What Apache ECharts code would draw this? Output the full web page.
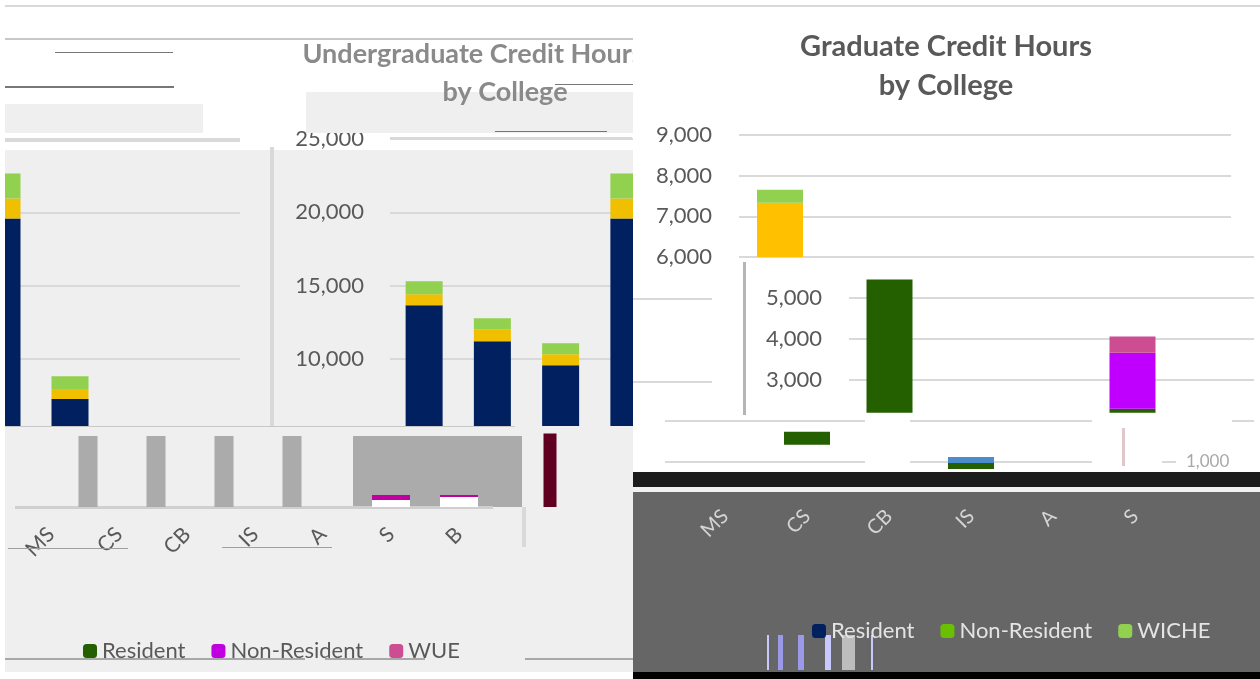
<!DOCTYPE html>
<html>
<head>
<meta charset="utf-8">
<style>html,body{margin:0;padding:0;background:#fff}#chart{width:1260px;height:679px}</style>
<script src="https://cdn.jsdelivr.net/npm/echarts@6/dist/echarts.min.js"></script>
</head>
<body>
<div id="chart"></div>
<script>
// undergraduate panel, values
var ugResident = [13670, 11220, 9590, 19590, 7280];
var ugNonResident = [750, 820, 750, 1360, 680];
var ugWue = [886, 750, 750, 1700, 880];
var ugLabels = ['MS', 'CS', 'CB', 'IS', 'A', 'S', 'B', ''];
var ugLowBase = [null, null, null, null, null, 470, 680, null];
var ugLowNonRes = [null, null, null, null, null, 350, 140, null];
var ugGrayBars = [4830, 4830, 4830, 4830];
var ugDarkBar = [5000];

// graduate panel, the same chart broken into three shifted bands
var grSlots = ['MS', 'CS', 'CB', 'IS', 'A', 'S'];
var grMidSlots = ['MS', 'CS', 'CB', 'IS', 'A'];
var grTopNonRes = [7335, null, null, null, null, null];
var grTopWiche = [318, null, null, null, null, null];
var grMidBase = [2200, null, null, 2200, null];
var grMidResident = [3252, null, null, 98, null];
var grMidNonRes = [null, null, null, 1369, null];
var grMidWue = [null, null, null, 392, null];
var grLowBase = [null, 1418, null, 831, null, null];
var grLowResident = [null, 318, null, 147, null, null];
var grLowBlue = [null, null, null, 147, null, null];

var FONT = 'Lato';
var TXT = '#595959';
var LINE = '#d9d9d9';
var NAVY = '#002060', GOLD = '#efbf00', LIME = '#92d050';
var DKGREEN = '#245f00', MAGENTA = '#c000ff', PINK = '#cc4d91';

function box(x, y, w, h, color, z) {
  return { type: 'rect', z: z, silent: true, shape: { x: x, y: y, width: w, height: h }, style: { fill: color } };
}

function yAxisFor(idx, min, max, step, opts) {
  return Object.assign({
    type: 'value', gridIndex: idx, min: min, max: max, interval: step,
    axisLine: { show: false }, axisTick: { show: false },
    axisLabel: { show: false },
    splitLine: { show: true, lineStyle: { color: LINE, width: 2 } }
  }, opts || {});
}
function numLabel(margin, extra) {
  return Object.assign({
    show: true, margin: margin, color: TXT, fontSize: 22, fontFamily: FONT,
    formatter: function (v) { return echarts.format.addCommas(v); }
  }, extra || {});
}
function xAxisFor(idx, cats, opts) {
  return Object.assign({
    type: 'category', gridIndex: idx, data: cats,
    axisLine: { show: false }, axisTick: { show: false }, axisLabel: { show: false }, splitLine: { show: false }
  }, opts || {});
}
function bar(name, idx, data, color, width, stack, z) {
  return {
    type: 'bar', name: name, xAxisIndex: idx, yAxisIndex: idx, data: data, stack: stack,
    barWidth: width, z: z, itemStyle: { color: color }, silent: true
  };
}

var grids = [
  { left: 2, top: 139, width: 272, height: 293.5 },     // 0 undergrad, wrapped part
  { left: 390, top: 139, width: 273, height: 293.5 },   // 1 undergrad, main part
  { left: 17, top: 433.5, width: 544, height: 73.5 },   // 2 undergrad low band
  { left: 54, top: 433.5, width: 272, height: 73.5 },   // 3 gray strips
  { left: 500, top: 433.5, width: 100, height: 73.5 },  // 4 dark strip
  { left: 739, top: 135, width: 492, height: 122 },     // 5 graduate top
  { left: 849, top: 257, width: 405, height: 164 },     // 6 graduate middle
  { left: 684, top: 421, width: 492, height: 82 }       // 7 graduate low
];

var xAxes = [
  xAxisFor(0, ['a', 'b', 'c', 'd', 'e'], { boundaryGap: false }),
  xAxisFor(1, ['a', 'b', 'c', 'd']),
  xAxisFor(2, ugLabels, {
    axisLabel: { show: true, interval: 0, rotate: 45, margin: 24, color: TXT, fontSize: 21, fontFamily: FONT }
  }),
  xAxisFor(3, ['a', 'b', 'c', 'd']),
  xAxisFor(4, ['a']),
  xAxisFor(5, grSlots),
  xAxisFor(6, grMidSlots),
  xAxisFor(7, grSlots, {
    z: 7,
    axisLabel: { show: true, interval: 0, rotate: 45, margin: 10, color: '#d4d4d4', fontSize: 20, fontFamily: FONT }
  })
];

var yAxes = [
  yAxisFor(0, 5000, 25000, 5000),
  yAxisFor(1, 5000, 25000, 5000, { axisLabel: numLabel(26, { showMinLabel: false }) }),
  yAxisFor(2, 0, 5000, 5000, { splitLine: { show: false } }),
  yAxisFor(3, 0, 5000, 5000, { splitLine: { show: false } }),
  yAxisFor(4, 0, 5000, 5000, { splitLine: { show: false } }),
  yAxisFor(5, 6000, 9000, 1000, { z: 4, axisLabel: numLabel(27) }),
  yAxisFor(6, 2000, 6000, 1000, { z: 4, axisLabel: numLabel(27, { showMinLabel: false, showMaxLabel: false }) }),
  yAxisFor(7, 0, 2000, 1000, { z: 4, position: 'right', axisLabel: numLabel(10, { showMinLabel: false, showMaxLabel: false, fontSize: 17, color: '#a8a8a8' }) })
];

function wrapped(arr) { return [arr[3], arr[4], null, null, null]; }
function mainPart(arr) { return arr.slice(0, 4); }

var series = [
  bar('Resident', 0, wrapped(ugResident), NAVY, 37, 'ua', 2),
  bar('Non-Resident', 0, wrapped(ugNonResident), GOLD, 37, 'ua', 2),
  bar('WUE', 0, wrapped(ugWue), LIME, 37, 'ua', 2),
  bar('Resident', 1, mainPart(ugResident), NAVY, 37, 'ub', 2),
  bar('Non-Resident', 1, mainPart(ugNonResident), GOLD, 37, 'ub', 2),
  bar('WUE', 1, mainPart(ugWue), LIME, 37, 'ub', 2),
  bar('base', 2, ugLowBase, '#ffffff', 38, 'uc', 4),
  bar('Non-Resident', 2, ugLowNonRes, '#c0009f', 38, 'uc', 4),
  bar('gray', 3, ugGrayBars, '#ababab', 19, null, 4),
  bar('dark', 4, ugDarkBar, '#5f0020', 13, null, 4),
  bar('Non-Resident', 5, grTopNonRes, '#ffc000', 46, 'ga', 4),
  bar('WICHE', 5, grTopWiche, LIME, 46, 'ga', 4),
  bar('base', 6, grMidBase, 'rgba(0,0,0,0)', 46, 'gb', 4),
  bar('Resident', 6, grMidResident, DKGREEN, 46, 'gb', 4),
  bar('Non-Resident', 6, grMidNonRes, MAGENTA, 46, 'gb', 4),
  bar('WUE', 6, grMidWue, PINK, 46, 'gb', 4),
  bar('base', 7, grLowBase, 'rgba(0,0,0,0)', 46, 'gc', 4),
  bar('Resident', 7, grLowResident, DKGREEN, 46, 'gc', 4),
  bar('WICHE', 7, grLowBlue, '#4a8ccc', 46, 'gc', 4)
];

var shapes = [
  // undergrad panel backdrop
  box(5, 150, 628, 522, '#efefef', 0),
  box(5, 5, 628, 2, LINE, 1),
  box(5, 38, 628, 2, '#c8c8c8', 1),
  box(55, 52, 118, 1, '#777', 1),
  box(5, 86, 169, 2, '#777', 1),
  box(555, 84, 78, 1, '#777', 1),
  box(5, 104, 198, 29, '#efefef', 1),
  box(306, 92, 327, 41, '#efefef', 1),
  box(495, 131, 112, 1, '#777', 1),
  box(5, 139, 236, 3, LINE, 1),
  box(390, 137, 242, 3, LINE, 1),
  // hides the wrapped gridlines past their end
  box(240, 136, 34, 6, '#ffffff', 3),
  box(240, 150, 30, 276, '#efefef', 3),
  box(270, 147, 4, 279, LINE, 3),
  // strip between the two undergrad bands and the gray block
  box(5, 426, 628, 8, '#efefef', 3),
  box(5, 426, 510, 1, '#c8c8c8', 3),
  box(353, 436, 169, 71, '#ababab', 3),
  box(15, 506, 478, 3, '#cfcfcf', 3),
  box(522, 507, 4, 40, LINE, 3),
  box(8, 548, 120, 1, '#a0a0a0', 3),
  box(222, 547, 110, 1, '#a0a0a0', 3),
  box(5, 658, 300, 2, '#a8a8a8', 3),
  box(325, 658, 100, 2, '#a8a8a8', 3),
  box(525, 658, 108, 2, '#a8a8a8', 3),
  // graduate panel
  box(633, 0, 627, 672, '#ffffff', 3),
  box(633, 5, 627, 2, LINE, 3),
  box(633, 298, 79, 2, LINE, 3),
  box(633, 381, 79, 2, LINE, 3),
  box(743, 262, 3, 153, '#b5b5b5', 3),
  box(665, 420, 19, 2, LINE, 3),
  box(665, 461, 19, 2, LINE, 3),
  box(865, 419, 45, 4, '#ffffff', 5),
  box(865, 460, 45, 4, '#ffffff', 5),
  box(1122, 428, 3, 38, '#e0c8c8', 6),
  // dark bands at the bottom
  box(1092, 419, 140, 4, '#ffffff', 5),
  box(1092, 460, 70, 4, '#ffffff', 5),
  box(633, 472, 627, 15, '#1c1c1c', 5),
  box(633, 487, 627, 5, '#f2f2f2', 5),
  box(633, 492, 627, 180, '#666666', 5),
  box(633, 672, 627, 7, '#000000', 5),
  box(767, 635, 2, 35, '#c9c9ff', 6),
  box(778, 635, 5, 35, '#9a9ae8', 6),
  box(798, 635, 6, 35, '#9a9ae8', 6),
  box(825, 635, 6, 35, '#c9c9ff', 6),
  box(842, 635, 13, 35, '#bdbdbd', 6),
  box(871, 635, 2, 35, '#c9c9ff', 6),
  box(0, 0, 5, 679, '#ffffff', 6)
];

var option = {
  animation: false,
  backgroundColor: '#ffffff',
  textStyle: { fontFamily: FONT },
  title: [
    {
      text: 'Undergraduate Credit Hours', left: 468, top: 36, textAlign: 'center', z: 2,
      textStyle: { color: '#8a8a8a', fontSize: 27, fontWeight: 'bold', fontFamily: FONT }
    },
    {
      text: 'by College', left: 500, top: 74, textAlign: 'center', z: 2,
      textStyle: { color: '#8a8a8a', fontSize: 27, fontWeight: 'bold', fontFamily: FONT }
    },
    {
      text: 'Graduate Credit Hours\nby College', left: 941, top: 22, textAlign: 'center', z: 7,
      textStyle: { color: TXT, fontSize: 29, fontWeight: 'bold', fontFamily: FONT, lineHeight: 39 }
    }
  ],
  legend: [
    {
      left: 78, top: 635, itemWidth: 14, itemHeight: 14, itemGap: 26, z: 7, selectedMode: false,
      textStyle: { color: TXT, fontSize: 22, fontFamily: FONT },
      data: [
        { name: 'Resident', itemStyle: { color: DKGREEN } },
        { name: 'Non-Resident', itemStyle: { color: '#c000e0' } },
        { name: 'WUE', itemStyle: { color: PINK } }
      ]
    },
    {
      left: 807, top: 615, itemWidth: 14, itemHeight: 14, itemGap: 26, z: 7, selectedMode: false,
      textStyle: { color: '#e4e4e4', fontSize: 22, fontFamily: FONT },
      data: [
        { name: 'Resident', itemStyle: { color: NAVY } },
        { name: 'Non-Resident', itemStyle: { color: '#6abf00' } },
        { name: 'WICHE', itemStyle: { color: LIME } }
      ]
    }
  ],
  grid: grids,
  xAxis: xAxes,
  yAxis: yAxes,
  series: series,
  graphic: { elements: shapes }
};

var myChart = echarts.init(document.getElementById('chart'), null, { renderer: 'canvas' });
myChart.setOption(option);
</script>
</body>
</html>
